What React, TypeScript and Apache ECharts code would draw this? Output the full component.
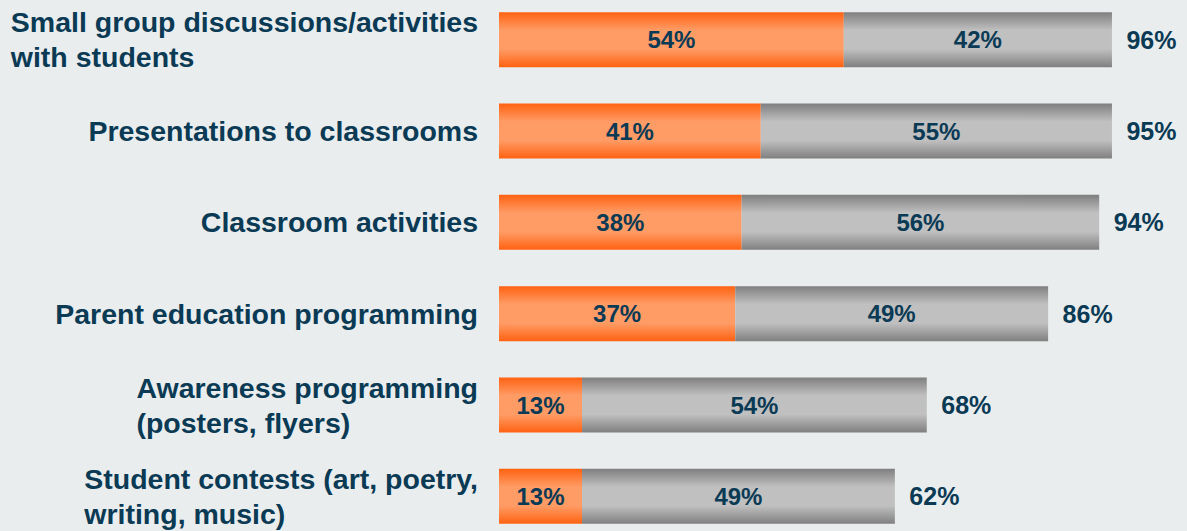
import React, { useEffect, useRef } from "react";
import * as echarts from "echarts";

const categories = [
  "Small group discussions/activities\nwith students",
  "Presentations to classrooms",
  "Classroom activities",
  "Parent education programming",
  "Awareness programming\n(posters, flyers)",
  "Student contests (art, poetry,\nwriting, music)",
];
const partA = [54, 41, 38, 37, 13, 13];
const partB = [42, 55, 56, 49, 54, 49];
const totals = [96, 95, 94, 86, 68, 62];

const TEXT = "#0b3a55";
const FONT = "'Liberation Sans', Arial, sans-serif";

function grad(edge: string, mid: string) {
  return new echarts.graphic.LinearGradient(0, 0, 0, 1, [
    { offset: 0, color: edge },
    { offset: 0.33, color: mid },
    { offset: 0.67, color: mid },
    { offset: 1, color: edge },
  ]);
}

export default function App() {
  const ref = useRef<HTMLDivElement>(null);
  useEffect(() => {
    document.body.style.margin = "0";
    document.body.style.background = "#e9edee";
    if (!ref.current) return;
    const chart = echarts.init(ref.current, null, { renderer: "svg" });
    const inLabel = {
      show: true,
      position: "inside",
      formatter: (p: any) => `${p.value}%`,
      color: TEXT,
      fontSize: 24,
      fontWeight: "bold",
      fontFamily: FONT,
    };
    chart.setOption({
      animation: false,
      backgroundColor: "#e9edee",
      grid: { left: 499, right: 49.5, top: 0, bottom: 0, containLabel: false },
      xAxis: {
        type: "value",
        min: 0,
        max: 100,
        show: false,
      },
      yAxis: {
        type: "category",
        inverse: true,
        data: categories,
        axisLine: { show: false },
        axisTick: { show: false },
        splitLine: { show: false },
        axisLabel: {
          align: "right",
          margin: 21,
          formatter: (v: string) =>
            v
              .split("\n")
              .map((l) => `{a|${l}}`)
              .join("\n"),
          rich: {
            a: {
              align: "left",
              color: TEXT,
              fontSize: 28.5,
              fontWeight: "bold",
              fontFamily: FONT,
              lineHeight: 35,
            },
          },
        },
      },
      series: [
        {
          type: "bar",
          stack: "s",
          barWidth: 55,
          data: partA,
          itemStyle: { color: grad("#ff6212", "#ff9c66") },
          label: inLabel,
        },
        {
          type: "bar",
          stack: "s",
          barWidth: 55,
          data: partB,
          itemStyle: { color: grad("#7f7f7f", "#c0c0c0") },
          label: inLabel,
        },
        {
          type: "scatter",
          symbolSize: 1,
          itemStyle: { opacity: 1, color: "rgba(0,0,0,0)" },
          data: categories.map((_, i) => [partA[i] + partB[i], i]),
          label: {
            show: true,
            position: "right",
            distance: 14,
            formatter: (p: any) => `${totals[p.dataIndex]}%`,
            color: TEXT,
            fontSize: 25,
            fontWeight: "bold",
            fontFamily: FONT,
          },
        },
      ],
    });
    return () => chart.dispose();
  }, []);
  return (
    <div
      ref={ref}
      style={{ position: "fixed", left: 0, top: -5.6, width: 1187, height: 548 }}
    />
  );
}
